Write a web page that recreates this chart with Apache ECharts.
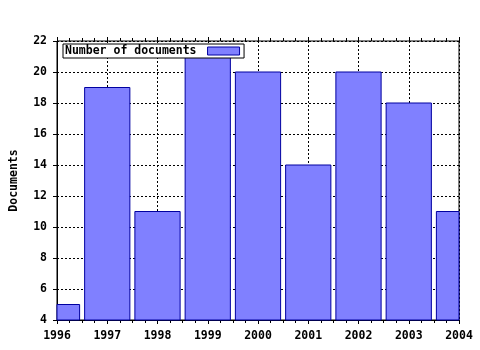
<!DOCTYPE html>
<html>
<head>
<meta charset="utf-8">
<script src="https://cdn.jsdelivr.net/npm/echarts@6/dist/echarts.min.js"></script>
<style>html,body{margin:0;padding:0;background:#fff}#c{width:480px;height:350px}</style>
</head>
<body>
<div id="c"></div>
<script>
const years = [1996, 1997, 1998, 1999, 2000, 2001, 2002, 2003, 2004];
const documents = [5, 19, 11, 21, 20, 14, 20, 18, 11];
const seriesName = 'Number of documents';
const yAxisName = 'Documents';
const yMin = 4, yMax = 22, yStep = 2;
const xMin = 1996, xMax = 2004, xStep = 1;

const font = 'DejaVu Sans Mono';
const barFill = '#8080ff', barStroke = '#0000a0';
const chart = echarts.init(document.getElementById('c'), null, {renderer: 'canvas'});
const gridLine = {show: true, lineStyle: {color: '#000', type: [2, 2], width: 1}};
chart.setOption({
  animation: false,
  backgroundColor: '#fff',
  grid: {left: 57, right: 21, top: 41, bottom: 30, show: true, borderColor: '#000', borderWidth: 1, backgroundColor: 'transparent'},
  legend: {
    left: 63, top: 44, padding: [1, 4, 1, 2],
    backgroundColor: '#fff', borderColor: '#000', borderWidth: 1,
    align: 'right', itemWidth: 32, itemHeight: 8, itemGap: 4,
    textStyle: {fontFamily: font, fontWeight: 'bold', fontSize: 11.5, color: '#000', padding: [0, 6, 0, 0]},
    data: [{name: seriesName, icon: 'rect', itemStyle: {color: barFill, borderColor: barStroke, borderWidth: 1}}]
  },
  xAxis: [{
    type: 'value', min: xMin, max: xMax, interval: xStep, position: 'bottom',
    axisLine: {show: true, lineStyle: {color: '#000'}},
    axisTick: {show: true, length: 4, lineStyle: {color: '#000'}},
    minorTick: {show: true, splitNumber: 4, length: 3, lineStyle: {color: '#000'}},
    axisLabel: {color: '#000', fontFamily: font, fontWeight: 'bold', fontSize: 11.5, margin: 10, showMinLabel: true, showMaxLabel: true, formatter: v => String(v)},
    splitLine: gridLine
  }, {
    type: 'value', min: xMin, max: xMax, interval: xStep, position: 'top',
    axisLine: {show: false},
    axisTick: {show: true, inside: false, length: 4, lineStyle: {color: '#000'}},
    minorTick: {show: true, splitNumber: 4, length: 3, lineStyle: {color: '#000'}},
    axisLabel: {show: false},
    splitLine: {show: false}
  }],
  yAxis: {
    type: 'value', min: yMin, max: yMax, interval: yStep,
    name: yAxisName, nameLocation: 'middle', nameGap: 37, nameRotate: 90,
    nameTextStyle: {color: '#000', fontFamily: font, fontWeight: 'bold', fontSize: 11.5},
    axisLine: {show: true, lineStyle: {color: '#000'}},
    axisTick: {show: true, length: 4, lineStyle: {color: '#000'}},
    axisLabel: {color: '#000', fontFamily: font, fontWeight: 'bold', fontSize: 11.5, margin: 10, showMinLabel: true, showMaxLabel: true},
    splitLine: gridLine
  },
  series: [{
    name: seriesName, type: 'custom', xAxisIndex: 0, yAxisIndex: 0,
    itemStyle: {color: barFill, borderColor: barStroke, borderWidth: 1},
    encode: {x: 0, y: 1},
    renderItem: function (params, api) {
      const x = api.value(0), y = api.value(1);
      const base = api.coord([x, yMin]);
      const top = api.coord([x, y]);
      const w = api.size([xStep, 0])[0] * 0.9;
      const cs = params.coordSys;
      const shape = echarts.graphic.clipRectByRect(
        {x: top[0] - w / 2, y: top[1], width: w, height: base[1] - top[1]},
        {x: cs.x, y: cs.y, width: cs.width, height: cs.height});
      return shape && {type: 'rect', shape: shape, style: {fill: barFill, stroke: barStroke, lineWidth: 1}};
    },
    data: years.map((y, i) => [y, documents[i]])
  }]
});
</script>
</body>
</html>
